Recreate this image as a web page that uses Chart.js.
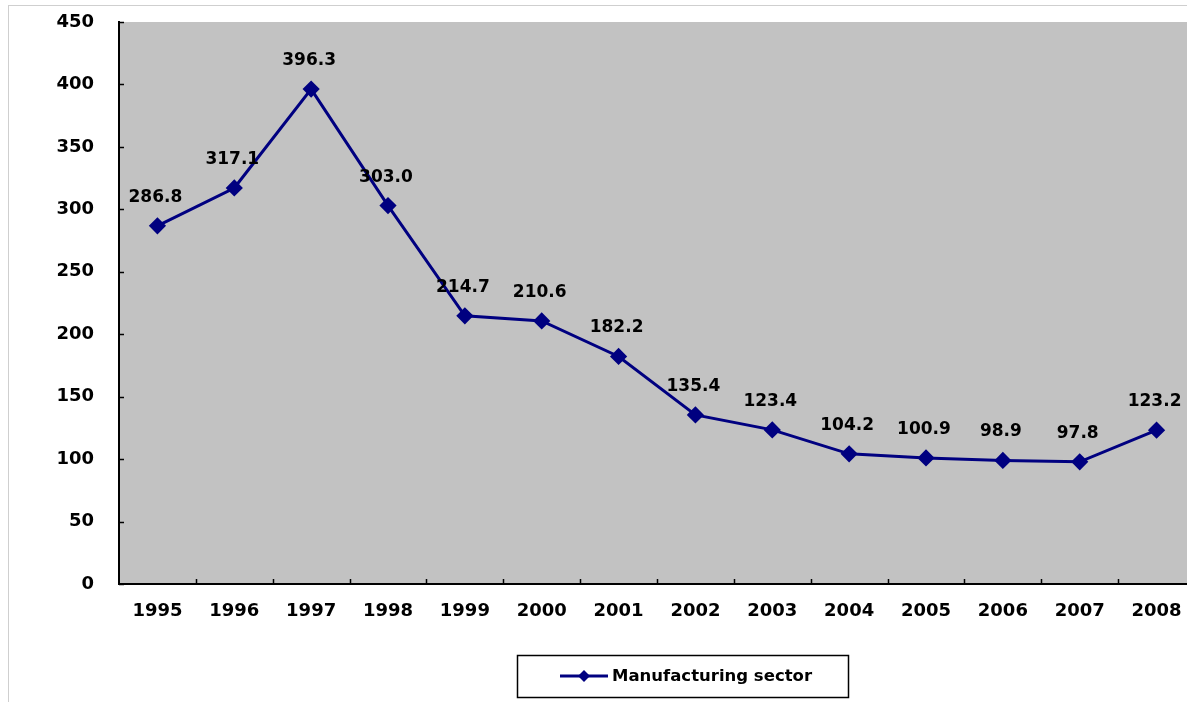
<!DOCTYPE html>
<html>
<head>
<meta charset="utf-8">
<script src="https://cdn.jsdelivr.net/npm/chart.js@4/dist/chart.umd.min.js"></script>
<style>
html,body{margin:0;padding:0;background:#fff;}
#wrap{width:1187px;height:702px;position:relative;}
</style>
</head>
<body>
<div id="wrap"><canvas id="c" width="1187" height="702"></canvas></div>
<script>
const years = ['1995','1996','1997','1998','1999','2000','2001','2002','2003','2004','2005','2006','2007','2008'];
const manufacturing = [286.8, 317.1, 396.3, 303.0, 214.7, 210.6, 182.2, 135.4, 123.4, 104.2, 100.9, 98.9, 97.8, 123.2];
const seriesLabel = 'Manufacturing sector';
const yMin = 0, yMax = 450, yStep = 50;

const LINE = '#000080';
const FONT = '"DejaVu Sans", Arial, sans-serif';

// the reference plot area runs a few pixels past the right edge of the picture
const extendRight = {
  id: 'extendRight',
  afterLayout(chart) {
    const x = chart.scales.x, extra = 8;
    x.right += extra; x.width += extra;
    x.configure();
    chart.chartArea.right += extra;
    chart.chartArea.width += extra;
  }
};

const decor = {
  id: 'decor',
  beforeDraw(chart) {
    const ctx = chart.ctx, a = chart.chartArea;
    ctx.save();
    ctx.fillStyle = '#ffffff';
    ctx.fillRect(0, 0, chart.width, chart.height);
    ctx.strokeStyle = '#cfcfcf';
    ctx.lineWidth = 1;
    ctx.strokeRect(8.5, 5.5, chart.width + 10, chart.height + 10);
    ctx.fillStyle = '#c2c2c2';
    ctx.fillRect(a.left, a.top, a.right - a.left, a.bottom - a.top);
    ctx.restore();
  },
  afterDatasetsDraw(chart) {
    const ctx = chart.ctx, a = chart.chartArea;
    const xs = chart.scales.x, ys = chart.scales.y;
    ctx.save();
    // inward tick marks
    ctx.strokeStyle = '#000';
    ctx.lineWidth = 1.5;
    for (let i = 1; i < years.length; i++) {
      const px = Math.round((xs.getPixelForValue(i - 1) + xs.getPixelForValue(i)) / 2) + 0.5;
      ctx.beginPath(); ctx.moveTo(px, a.bottom); ctx.lineTo(px, a.bottom - 5); ctx.stroke();
    }
    for (let v = yMin; v <= yMax; v += yStep) {
      const py = Math.round(ys.getPixelForValue(v)) + 0.5;
      ctx.beginPath(); ctx.moveTo(a.left, py); ctx.lineTo(a.left + 5, py); ctx.stroke();
    }
    // data labels
    ctx.fillStyle = '#000';
    ctx.font = 'bold 17px ' + FONT;
    ctx.textAlign = 'center';
    ctx.textBaseline = 'alphabetic';
    const meta = chart.getDatasetMeta(0);
    meta.data.forEach((pt, i) => {
      ctx.fillText(manufacturing[i].toFixed(1), pt.x - 2, pt.y - 24);
    });
    // legend box
    const bx = 517, by = 655, bw = 331, bh = 42;
    ctx.fillStyle = '#fff';
    ctx.fillRect(bx, by, bw, bh);
    ctx.strokeStyle = '#000';
    ctx.lineWidth = 1.5;
    ctx.strokeRect(bx + 0.5, by + 0.5, bw, bh);
    const ly = by + bh / 2;
    ctx.strokeStyle = LINE;
    ctx.lineWidth = 3;
    ctx.beginPath(); ctx.moveTo(560, ly); ctx.lineTo(608, ly); ctx.stroke();
    ctx.fillStyle = LINE;
    ctx.beginPath();
    ctx.moveTo(584, ly - 6); ctx.lineTo(590, ly); ctx.lineTo(584, ly + 6); ctx.lineTo(578, ly);
    ctx.closePath(); ctx.fill();
    let fs = 18;
    ctx.font = 'bold ' + fs + 'px ' + FONT;
    while (ctx.measureText(seriesLabel).width > 202 && fs > 10) {
      fs -= 0.5;
      ctx.font = 'bold ' + fs + 'px ' + FONT;
    }
    ctx.fillStyle = '#000';
    ctx.textAlign = 'left';
    ctx.textBaseline = 'middle';
    ctx.fillText(seriesLabel, 612, ly + 1);
    ctx.restore();
  }
};

new Chart(document.getElementById('c'), {
  type: 'line',
  data: {
    labels: years,
    datasets: [{
      label: seriesLabel,
      data: manufacturing,
      borderColor: LINE,
      backgroundColor: LINE,
      borderWidth: 3,
      pointStyle: 'rectRot',
      pointRadius: 6.5,
      pointHoverRadius: 6.5,
      pointBackgroundColor: LINE,
      pointBorderColor: LINE,
      tension: 0,
      clip: false
    }]
  },
  options: {
    responsive: false,
    animation: false,
    devicePixelRatio: 1,
    layout: { autoPadding: false, padding: { left: 0, top: 22, right: 0, bottom: 0 } },
    plugins: { legend: { display: false }, tooltip: { enabled: false } },
    scales: {
      x: {
        type: 'category',
        offset: true,
        grid: { display: false, offset: true },
        border: { display: true, color: '#000', width: 2 },
        ticks: { color: '#000', font: { family: FONT, size: 18, weight: 'bold' }, padding: 9, maxRotation: 0, autoSkip: false },
        afterFit(s) { s.height = 118; s.paddingLeft = 0; s.paddingRight = 0; }
      },
      y: {
        min: yMin, max: yMax,
        grid: { display: false },
        border: { display: true, color: '#000', width: 2 },
        ticks: { stepSize: yStep, color: '#000', font: { family: FONT, size: 18, weight: 'bold' }, padding: 17 },
        afterFit(s) { s.width = 119; s.paddingTop = 0; s.paddingBottom = 0; }
      }
    }
  },
  plugins: [extendRight, decor]
});
</script>
</body>
</html>
